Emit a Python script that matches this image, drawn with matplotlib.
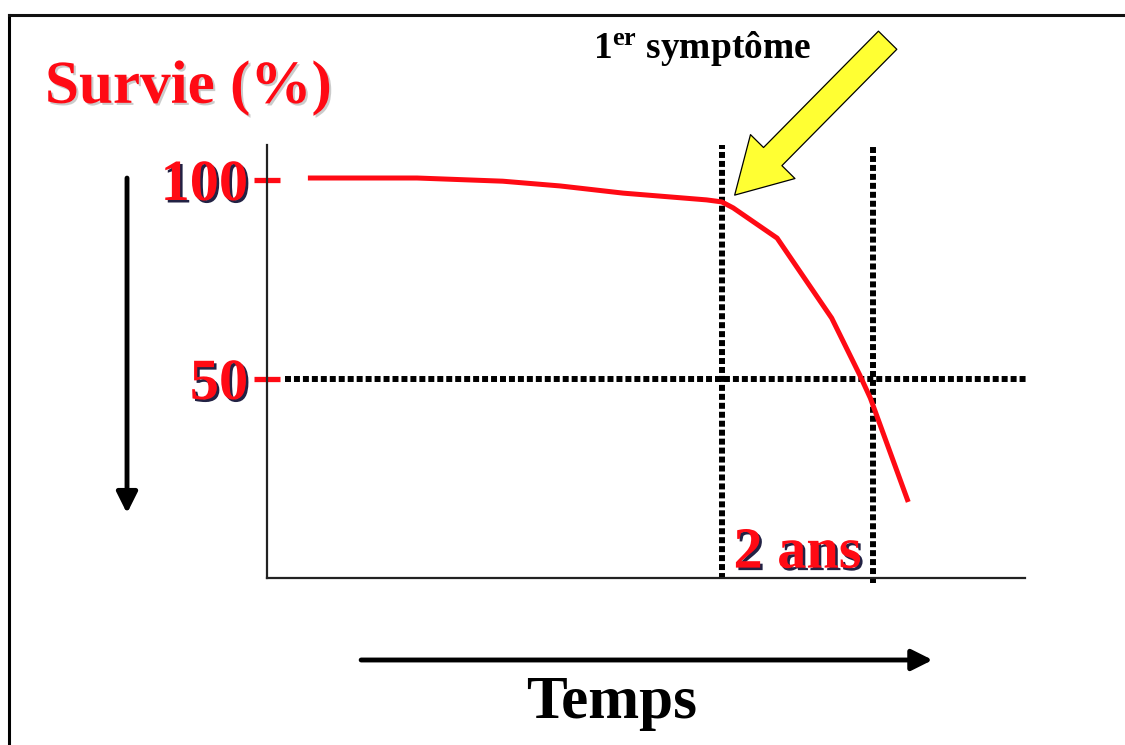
import matplotlib.pyplot as plt
import matplotlib.patheffects as pe
from matplotlib.lines import Line2D
from matplotlib.patches import FancyArrowPatch

# Survival curve (arbitrary time units, survival in %)
time = [0.54, 1.98, 3.11, 3.87, 4.70, 5.80, 6.00, 6.15, 6.73, 7.45, 7.82, 7.96, 8.46]
survival = [100.5, 100.5, 99.7, 98.5, 96.7, 95.0, 94.5, 93.0, 85.4, 65.3, 51.0, 45.2, 19.1]

symptom_onset = 6.0
median_death = 8.0
half_survival = 50
survival_ticks = [50, 100]
survival_labels = ["50", "100"]

RED = "#FF0A14"
SERIF = "Liberation Serif"


def main() -> None:
    plt.rcParams["mathtext.fontset"] = "custom"
    plt.rcParams["mathtext.bf"] = "Liberation Serif:bold"
    plt.rcParams["mathtext.rm"] = "Liberation Serif:bold"

    fig = plt.figure(figsize=(11.25, 7.45), dpi=100)
    ax = fig.add_axes([0.2373, 0.2242, 0.6738, 0.5812])

    ax.plot(time, survival, color=RED, lw=3.6, solid_capstyle="butt",
            solid_joinstyle="round", zorder=3)

    dots = dict(color="black", lw=4.3, linestyle=(0, (1.0, 0.5)),
                dash_capstyle="butt", clip_on=False, zorder=2)
    ax.plot([0.24, 10.04], [half_survival, half_survival], **dots)
    ax.plot([symptom_onset, symptom_onset], [-0.3, 108.8], **dots)
    ax.plot([median_death, median_death], [-1.3, 108.8], **dots)

    ax.set_xlim(0, 10)
    ax.set_ylim(0, 108.8)
    for side in ("top", "right"):
        ax.spines[side].set_visible(False)
    for side in ("left", "bottom"):
        ax.spines[side].set_linewidth(1.6)
        ax.spines[side].set_color("#222222")

    ax.set_xticks([])
    ax.set_yticks(survival_ticks)
    ax.set_yticklabels(survival_labels)
    ax.tick_params(axis="y", direction="inout", length=19, width=3.8,
                   color=RED, pad=4)
    shadow = [pe.withSimplePatchShadow(offset=(1.8, -1.8),
                                       shadow_rgbFace="#0a0a30", alpha=0.9)]
    for lbl in ax.get_yticklabels():
        lbl.set_fontfamily(SERIF)
        lbl.set_fontweight("bold")
        lbl.set_fontsize(42)
        lbl.set_color(RED)
        lbl.set_path_effects(shadow)

    ax.text((symptom_onset + median_death) / 2, 2.6, "2 ans", ha="center",
            va="baseline", fontsize=42, fontweight="bold", family=SERIF,
            color=RED, path_effects=shadow, zorder=4)

    # Titles and labels around the plot
    fig.text(0.040, 0.862, "Survie (%)", fontsize=44, fontweight="bold",
             family=SERIF, color=RED, va="baseline",
             path_effects=[pe.withSimplePatchShadow(offset=(1.5, -1.5),
                                                   shadow_rgbFace="#999999",
                                                   alpha=0.5)])
    fig.text(0.527, 0.922, r"$\mathbf{1^{er}}$ symptôme", fontsize=27,
             fontweight="bold", family=SERIF, color="black", va="baseline")
    fig.text(0.544, 0.036, "Temps", fontsize=44, fontweight="bold",
             family=SERIF, color="black", ha="center", va="baseline")

    # Yellow block arrow pointing at the first symptom
    ax.annotate("", xy=(6.17, 96.2), xycoords="data",
                xytext=(0.789, 0.946), textcoords="figure fraction",
                arrowprops=dict(arrowstyle="simple,head_length=1.3,head_width=1.5,tail_width=0.62",
                                mutation_scale=30, fc="#FFFF33", ec="black",
                                lw=0.9, shrinkA=0, shrinkB=0),
                annotation_clip=False, zorder=5)

    # Direction arrows for time and survival
    arrow = dict(arrowstyle="-|>,head_length=0.9,head_width=0.45", color="black",
                 lw=3.5, mutation_scale=14, shrinkA=0, shrinkB=0)
    fig.add_artist(FancyArrowPatch((0.321, 0.1141), (0.829, 0.1141),
                                   transform=fig.transFigure, **arrow))
    fig.add_artist(FancyArrowPatch((0.1129, 0.761), (0.1129, 0.311),
                                   transform=fig.transFigure, **arrow))

    # Outer frame (left and top edges)
    fig.add_artist(Line2D([0.0078, 0.0078], [0.0, 0.98], transform=fig.transFigure,
                          color="black", lw=2.2))
    fig.add_artist(Line2D([0.0078, 1.0], [0.98, 0.98], transform=fig.transFigure,
                          color="#111111", lw=2.2))

    fig.savefig("out.png", dpi=100)
    plt.close(fig)


if __name__ == "__main__":
    main()
